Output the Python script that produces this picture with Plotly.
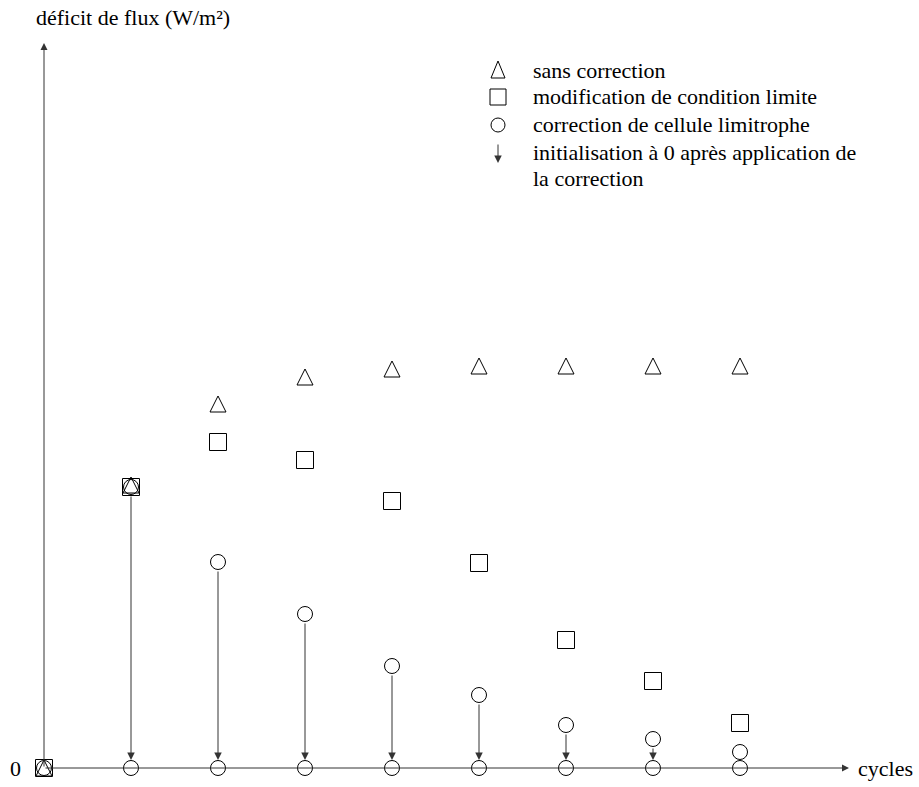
import plotly.graph_objects as go

# ---- data ----
cycles = [0, 1, 2, 3, 4, 5, 6, 7, 8]
sans_correction = [0, 2.83, 3.64, 3.91, 3.99, 4.02, 4.02, 4.02, 4.02]
modif_condition_limite = [0, 2.81, 3.26, 3.08, 2.67, 2.05, 1.28, 0.87, 0.45]
cellule_cycles = [1, 2, 3, 4, 5, 6, 7, 8]
cellule_avant_reinit = [2.81, 2.06, 1.54, 1.02, 0.73, 0.43, 0.29, 0.16]
cellule_apres_reinit = [0, 0, 0, 0, 0, 0, 0, 0, 0]
reinit_cycles = [1, 2, 3, 4, 5, 6, 7]

legend_labels = [
    "sans correction",
    "modification de condition limite",
    "correction de cellule limitrophe",
    "initialisation à 0 après application de",
    "la correction",
]
x_title = "cycles"
y_title = "déficit de flux (W/m²)"
y_tick = "0"

# ---- layout constants ----
W, H = 919, 787
ORIGIN_PX, ORIGIN_PY = 44, 768
PX_PER_CYCLE, PX_PER_UNIT = 87, 100
FONT = "Liberation Serif"
FS = 22
INK = "black"
LINE = "#333333"

def px(xp):
    return xp / W

def py(yp):
    return 1 - yp / H

fig = go.Figure()

fig.add_trace(go.Scatter(
    x=cycles, y=sans_correction, mode="markers", name=legend_labels[0],
    marker=dict(symbol="arrow-down-open", angle=180, standoff=8, size=16,
                color=INK, line=dict(width=1, color=INK)),
))
fig.add_trace(go.Scatter(
    x=cycles, y=modif_condition_limite, mode="markers", name=legend_labels[1],
    marker=dict(symbol="square-open", size=17, color=INK, line=dict(width=1, color=INK)),
))
fig.add_trace(go.Scatter(
    x=cellule_cycles + cycles,
    y=cellule_avant_reinit + cellule_apres_reinit,
    mode="markers", name=legend_labels[2],
    marker=dict(symbol="circle-open", size=15, color=INK, line=dict(width=1, color=INK)),
))

annotations = []

# axes drawn as arrows
x_tip = (849 - ORIGIN_PX) / PX_PER_CYCLE
y_tip = (ORIGIN_PY - 43) / PX_PER_UNIT
annotations.append(dict(x=x_tip, y=0, ax=0, ay=0, xref="x", yref="y", axref="x", ayref="y",
                        text="", showarrow=True, arrowhead=2, arrowsize=1.4, arrowwidth=1,
                        arrowcolor=LINE))
annotations.append(dict(x=0, y=y_tip, ax=0, ay=0, xref="x", yref="y", axref="x", ayref="y",
                        text="", showarrow=True, arrowhead=2, arrowsize=1.4, arrowwidth=1,
                        arrowcolor=LINE))
# axis labels
annotations.append(dict(x=x_tip, y=0, xref="x", yref="y", text=x_title, showarrow=False,
                        xanchor="left", yanchor="middle", xshift=7,
                        font=dict(family=FONT, size=FS, color=INK)))
annotations.append(dict(x=0, y=y_tip, xref="x", yref="y", text=y_title, showarrow=False,
                        xanchor="left", yanchor="middle", xshift=-10, yshift=26,
                        font=dict(family=FONT, size=FS, color=INK)))
annotations.append(dict(x=0, y=0, xref="x", yref="y", text=y_tick, showarrow=False,
                        xanchor="right", yanchor="middle", xshift=-21,
                        font=dict(family=FONT, size=FS, color=INK)))

# reset arrows (circle value -> 0)
for c in reinit_cycles:
    v = cellule_avant_reinit[cellule_cycles.index(c)]
    annotations.append(dict(x=c, y=0, ax=c, ay=v, xref="x", yref="y", axref="x", ayref="y",
                            text="", showarrow=True, arrowhead=2, arrowsize=1.5, arrowwidth=1,
                            arrowcolor=LINE, standoff=8, startstandoff=8))

# legend
LEG_SYM_X, LEG_TXT_X = 498, 531
row_y = [70, 97, 125, 152, 178]
for lab, ry in zip(legend_labels, row_y):
    annotations.append(dict(x=px(LEG_TXT_X), y=py(ry), xref="paper", yref="paper",
                            text=lab, showarrow=False, xanchor="left", yanchor="middle",
                            align="left", font=dict(family=FONT, size=FS, color=INK)))
annotations.append(dict(x=px(LEG_SYM_X), y=py(163), xref="paper", yref="paper", text="",
                        showarrow=True, ax=0, ay=-20, arrowhead=2, arrowsize=1.5,
                        arrowwidth=1, arrowcolor=LINE))

shapes = [
    dict(type="path", xref="paper", yref="paper",
         path=f"M{px(LEG_SYM_X)},{py(row_y[0]-9)} L{px(LEG_SYM_X-7)},{py(row_y[0]+8)} "
              f"L{px(LEG_SYM_X+7)},{py(row_y[0]+8)} Z",
         line=dict(color=INK, width=1)),
    dict(type="rect", xref="paper", yref="paper",
         x0=px(LEG_SYM_X - 8), x1=px(LEG_SYM_X + 8), y0=py(row_y[1] - 8), y1=py(row_y[1] + 8),
         line=dict(color=INK, width=1)),
    dict(type="circle", xref="paper", yref="paper",
         x0=px(LEG_SYM_X - 7), x1=px(LEG_SYM_X + 7), y0=py(row_y[2] - 7), y1=py(row_y[2] + 7),
         line=dict(color=INK, width=1)),
]

fig.update_layout(
    width=W, height=H, margin=dict(l=0, r=0, t=0, b=0),
    paper_bgcolor="white", plot_bgcolor="white", showlegend=False,
    xaxis=dict(visible=False, range=[-ORIGIN_PX / PX_PER_CYCLE, (W - ORIGIN_PX) / PX_PER_CYCLE]),
    yaxis=dict(visible=False, range=[-(H - ORIGIN_PY) / PX_PER_UNIT, ORIGIN_PY / PX_PER_UNIT]),
    annotations=annotations, shapes=shapes,
)

fig.write_html("out.html")
